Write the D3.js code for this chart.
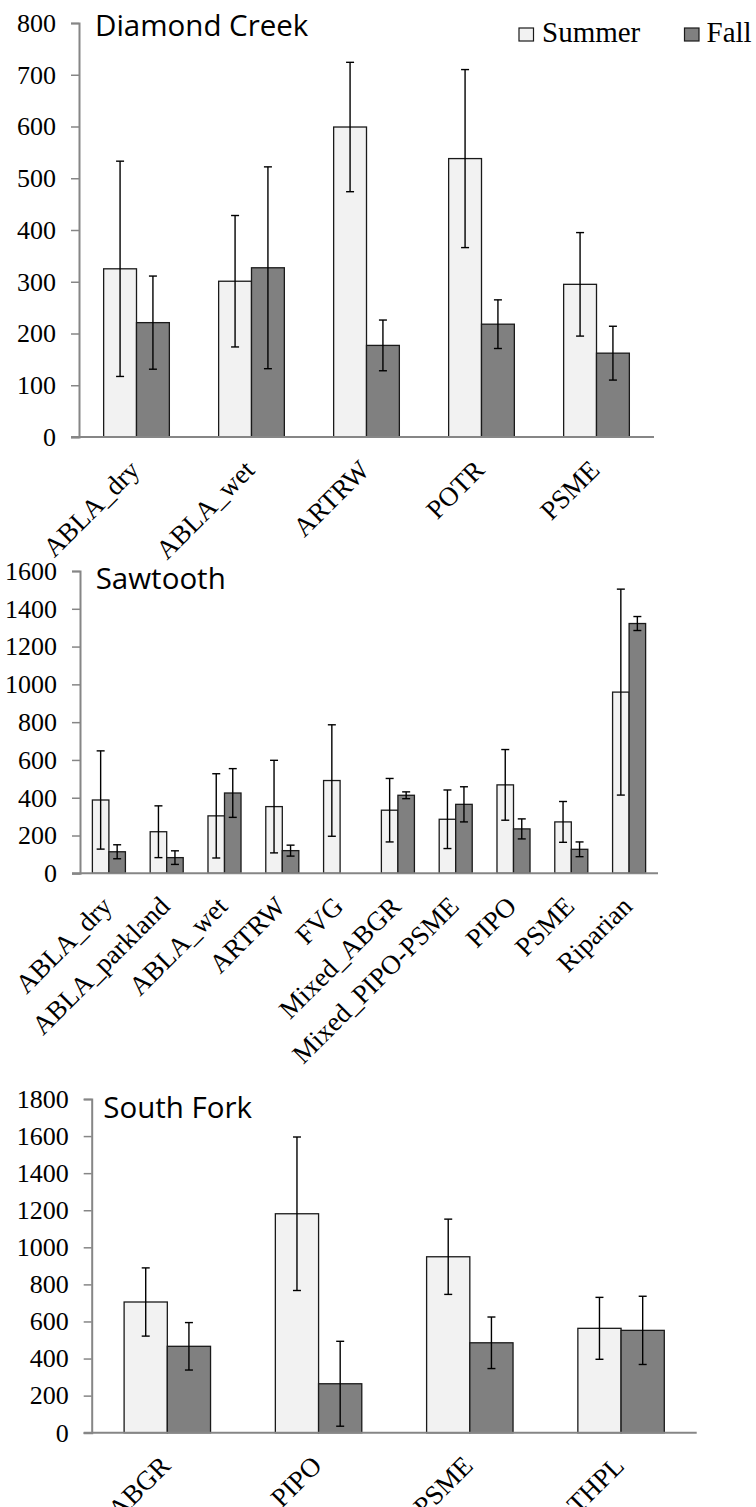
<!DOCTYPE html>
<html>
<head>
<meta charset="utf-8">
<script src="https://cdn.jsdelivr.net/npm/d3@7"></script>
<style>
  html, body { margin: 0; padding: 0; background: #fff; }
  svg { display: block; }
</style>
</head>
<body>
<svg id="chart" width="756" height="1507"></svg>
<script>
// ---------- Data ----------
const seriesNames = ["Summer", "Fall"];

// Diamond Creek
const dcTitle = "Diamond Creek";
const dcCategories = ["ABLA_dry", "ABLA_wet", "ARTRW", "POTR", "PSME"];
const dcSummer    = [325, 301, 599, 538, 295];
const dcSummerErr = [208, 127, 125, 172, 100];
const dcFall      = [221, 327, 177, 218, 162];
const dcFallErr   = [90, 195, 49, 47, 52];
const dcTicks     = [0, 100, 200, 300, 400, 500, 600, 700, 800];

// Sawtooth
const swTitle = "Sawtooth";
const swCategories = ["ABLA_dry", "ABLA_parkland", "ABLA_wet", "ARTRW", "FVG", "Mixed_ABGR", "Mixed_PIPO-PSME", "PIPO", "PSME", "Riparian"];
const swSummer    = [388, 220, 304, 353, 491, 334, 286, 468, 272, 959];
const swSummerErr = [260, 137, 223, 245, 295, 168, 155, 187, 108, 545];
const swFall      = [114, 83, 425, 120, null, 413, 365, 235, 127, 1322];
const swFallErr   = [37, 36, 129, 29, null, 18, 93, 53, 39, 37];
const swTicks     = [0, 200, 400, 600, 800, 1000, 1200, 1400, 1600];

// South Fork
const sfTitle = "South Fork";
const sfCategories = ["ABGR", "PIPO", "PSME", "THPL"];
const sfSummer    = [705, 1181, 949, 563];
const sfSummerErr = [184, 414, 203, 167];
const sfFall      = [466, 264, 485, 552];
const sfFallErr   = [128, 229, 139, 184];
const sfTicks     = [0, 200, 400, 600, 800, 1000, 1200, 1400, 1600, 1800];

// ---------- Styles ----------
const summerFill = "#f2f2f2";
const fallFill = "#808080";
const barStroke = "#1a1a1a";
const axisColor = "#868686";
const serifFont = "'Liberation Serif', 'Times New Roman', serif";
const sansFont = "'Open Sans', 'Noto Sans', sans-serif";

const svg = d3.select("#chart");

function drawPanel(cfg) {
  const g = svg.append("g");
  const x = d3.scaleBand().domain(cfg.categories).range([cfg.x0, cfg.x1]).padding(0);
  const xs = d3.scaleBand().domain(seriesNames).range([0, x.bandwidth()])
               .paddingInner(0).paddingOuter(0.75);
  const y = d3.scaleLinear().domain([0, d3.max(cfg.ticks)]).range([cfg.y0, cfg.yTop]);

  // y axis
  const yAxis = d3.axisLeft(y).tickValues(cfg.ticks).tickSize(8).tickPadding(15).tickFormat(d3.format("d"));
  const ya = g.append("g")
    .attr("transform", `translate(${cfg.x0},0)`).call(yAxis)
    .attr("font-family", serifFont).attr("font-size", 26);
  ya.select(".domain").attr("stroke", axisColor).attr("stroke-width", 2);
  ya.selectAll(".tick line").attr("stroke", axisColor).attr("stroke-width", 1.5);
  ya.selectAll(".tick text").attr("fill", "#000");

  const rows = cfg.categories.map((c, i) => ({
    cat: c,
    vals: [
      { s: "Summer", v: cfg.summer[i], e: cfg.summerErr[i] },
      { s: "Fall", v: cfg.fall[i], e: cfg.fallErr[i] }
    ]
  }));

  const groups = g.selectAll(".cat").data(rows).join("g")
    .attr("transform", d => `translate(${x(d.cat)},0)`);

  const items = groups.selectAll(".bar").data(d => d.vals.filter(v => v.v != null)).join("g");

  items.append("rect")
    .attr("x", d => xs(d.s))
    .attr("y", d => y(d.v))
    .attr("width", xs.bandwidth())
    .attr("height", d => y(0) - y(d.v))
    .attr("fill", d => d.s === "Summer" ? summerFill : fallFill)
    .attr("stroke", barStroke)
    .attr("stroke-width", 1.3);

  // error bars
  const capW = 4;
  const eb = items.append("g").attr("stroke", "#000").attr("stroke-width", 1.4);
  eb.append("line")
    .attr("x1", d => xs(d.s) + xs.bandwidth() / 2)
    .attr("x2", d => xs(d.s) + xs.bandwidth() / 2)
    .attr("y1", d => y(d.v + d.e))
    .attr("y2", d => y(Math.max(0, d.v - d.e)));
  eb.append("line")
    .attr("x1", d => xs(d.s) + xs.bandwidth() / 2 - capW)
    .attr("x2", d => xs(d.s) + xs.bandwidth() / 2 + capW)
    .attr("y1", d => y(d.v + d.e)).attr("y2", d => y(d.v + d.e));
  eb.append("line")
    .attr("x1", d => xs(d.s) + xs.bandwidth() / 2 - capW)
    .attr("x2", d => xs(d.s) + xs.bandwidth() / 2 + capW)
    .attr("y1", d => y(d.v - d.e)).attr("y2", d => y(d.v - d.e));

  // x axis line
  g.append("line")
    .attr("x1", cfg.x0 - 8).attr("x2", cfg.x1)
    .attr("y1", cfg.y0).attr("y2", cfg.y0)
    .attr("stroke", axisColor).attr("stroke-width", 2);

  // category labels, rotated -45
  g.selectAll(".xl").data(cfg.categories).join("text")
    .attr("class", "xl")
    .attr("transform", d => `translate(${x(d) + x.bandwidth() / 2 - 8},${cfg.y0 + 22}) rotate(-45)`)
    .attr("dy", "0.66em")
    .attr("text-anchor", "end")
    .attr("font-family", serifFont).attr("font-size", 27)
    .attr("fill", "#000")
    .text(d => d);

  // title
  g.append("text")
    .attr("x", cfg.titleX).attr("y", cfg.titleY)
    .attr("font-family", sansFont).attr("font-size", 29.5)
    .attr("fill", "#000")
    .text(cfg.title);
}

drawPanel({ title: dcTitle, categories: dcCategories, summer: dcSummer, summerErr: dcSummerErr,
  fall: dcFall, fallErr: dcFallErr, ticks: dcTicks,
  x0: 79, x1: 654, y0: 437, yTop: 23, titleX: 95, titleY: 36 });

drawPanel({ title: swTitle, categories: swCategories, summer: swSummer, summerErr: swSummerErr,
  fall: swFall, fallErr: swFallErr, ticks: swTicks,
  x0: 80, x1: 658, y0: 873.3, yTop: 571, titleX: 95.7, titleY: 589 });

drawPanel({ title: sfTitle, categories: sfCategories, summer: sfSummer, summerErr: sfSummerErr,
  fall: sfFall, fallErr: sfFallErr, ticks: sfTicks,
  x0: 91.7, x1: 696.7, y0: 1432.7, yTop: 1099, titleX: 103.3, titleY: 1118 });

// legend
const legendItems = [
  { name: seriesNames[0], fill: summerFill, bx: 519, tx: 542 },
  { name: seriesNames[1], fill: fallFill, bx: 684.5, tx: 706.5 }
];
const lg = svg.append("g");
lg.selectAll("rect").data(legendItems).join("rect")
  .attr("x", d => d.bx).attr("y", 28).attr("width", 14.5).attr("height", 13)
  .attr("fill", d => d.fill).attr("stroke", barStroke).attr("stroke-width", 1.2);
lg.selectAll("text").data(legendItems).join("text")
  .attr("x", d => d.tx).attr("y", 41.5)
  .attr("font-family", serifFont).attr("font-size", 29)
  .attr("fill", "#000")
  .text(d => d.name);
</script>
</body>
</html>
